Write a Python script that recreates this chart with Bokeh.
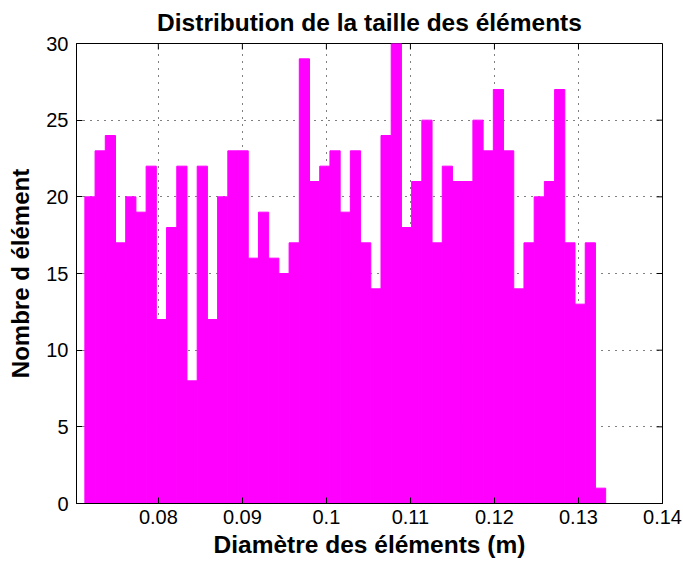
import numpy as np
from bokeh.plotting import figure
from bokeh.models import ColumnDataSource, FixedTicker, Range1d
from bokeh.embed import file_html
from bokeh.resources import INLINE

# ---- data ----
counts = [20, 23, 24, 17, 20, 19, 22, 12, 18, 22,
          8, 22, 12, 20, 23, 23, 16, 19, 16, 15,
          17, 29, 21, 22, 23, 19, 23, 17, 14, 24,
          30, 18, 21, 25, 17, 22, 21, 21, 25, 23,
          27, 23, 14, 17, 20, 21, 27, 17, 13, 17, 1]
bin_start = 0.071255      # left edge of first bin (m)
bin_width = 0.0012153     # width of one bin (m)
x_ticks = [0.08, 0.09, 0.10, 0.11, 0.12, 0.13, 0.14]
x_tick_labels = ["0.08", "0.09", "0.1", "0.11", "0.12", "0.13", "0.14"]
y_ticks = [0, 5, 10, 15, 20, 25, 30]
x_min, x_max = 0.07026, 0.14
y_min, y_max = 0, 30

title_text = "Distribution de la taille des éléments"
x_label = "Diamètre des éléments (m)"
y_label = "Nombre d élément"

edges = bin_start + bin_width * np.arange(len(counts) + 1)
src = ColumnDataSource(dict(left=edges[:-1], right=edges[1:],
                            top=counts, bottom=[0] * len(counts)))

FONT = "Liberation Sans"
TICK = 6

p = figure(width=683, height=562, output_backend="svg", toolbar_location=None,
           x_range=Range1d(x_min, x_max), y_range=Range1d(y_min, y_max),
           min_border_left=76, min_border_right=21, min_border_top=43,
           min_border_bottom=59, background_fill_color="white",
           border_fill_color="white")

p.quad(left="left", right="right", top="top", bottom="bottom", source=src,
       fill_color="#ff00ff", line_color="#ff00ff", line_width=1)

# inside ticks on the top and right edges of the box
p.ray(x=x_ticks, y=[y_max] * len(x_ticks), length=TICK, length_units="screen",
      angle=-np.pi / 2, line_color="black", line_width=1)
p.ray(x=[x_max] * len(y_ticks), y=y_ticks, length=TICK, length_units="screen",
      angle=np.pi, line_color="black", line_width=1)

p.title.text = title_text
p.title.text_font = FONT
p.title.text_font_size = "24.5px"
p.title.text_font_style = "bold"
p.title.align = "center"
p.title.vertical_align = "top"
p.title.standoff = 12
p.title.text_color = "black"

p.outline_line_color = "black"
p.outline_line_width = 1
p.outline_line_alpha = 1

def style_axis(ax, ticks):
    ax.ticker = FixedTicker(ticks=ticks)
    ax.major_tick_in = TICK
    ax.major_tick_out = 0
    ax.minor_tick_line_color = None
    ax.axis_line_color = "black"
    ax.major_tick_line_color = "black"
    ax.major_label_text_font = FONT
    ax.major_label_text_color = "black"
    ax.major_label_text_font_size = "20px"

xa = p.xaxis[0]
style_axis(xa, x_ticks)
xa.major_label_overrides = dict(zip(x_ticks, x_tick_labels))
xa.major_label_standoff = 6
xa.axis_label = x_label
xa.axis_label_text_font = FONT
xa.axis_label_text_font_size = "24.5px"
xa.axis_label_text_font_style = "bold"
xa.axis_label_text_color = "black"
xa.axis_label_standoff = 4

ya = p.yaxis[0]
style_axis(ya, y_ticks)
ya.major_label_standoff = 8
ya.axis_label = y_label
ya.axis_label_text_font = FONT
ya.axis_label_text_font_size = "24px"
ya.axis_label_text_font_style = "bold"
ya.axis_label_text_color = "black"
ya.axis_label_standoff = 9

for g, t in ((p.xgrid[0], x_ticks), (p.ygrid[0], y_ticks)):
    g.ticker = FixedTicker(ticks=t)
    g.grid_line_color = "black"
    g.grid_line_dash = "1 6"
    g.grid_line_width = 1
    g.grid_line_alpha = 1

open("out.html", "w").write(file_html(p, INLINE))
